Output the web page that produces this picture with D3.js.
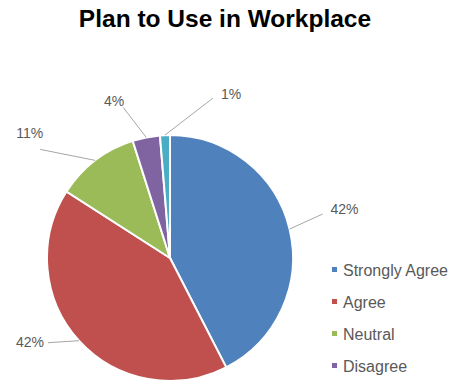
<!DOCTYPE html>
<html>
<head>
<meta charset="utf-8">
<script src="https://cdn.jsdelivr.net/npm/d3@7"></script>
<style>
  body { margin: 0; background: #fff; }
  svg { display: block; font-family: "Liberation Sans", Arial, sans-serif; }
</style>
</head>
<body>
<div id="viz"></div>
<script>
const w = 459;
const h = 383;

// data
const categories = ['Strongly Agree', 'Agree', 'Neutral', 'Disagree', 'Strongly Disagree'];
const values = [42.4, 41.6, 11.0, 3.6, 1.3];
const labels = ['42%', '42%', '11%', '4%', '1%'];
const colors = ['#4F81BD', '#C0504D', '#9BBB59', '#8064A2', '#4BACC6'];
// only the first four legend entries fit in the frame
const legendShown = 4;

// where the leader lines end (relative to slice edge) and text nudges
const leader = [
    { dx: 33, dy: -15, tx: 8, ty: 0, anchor: 'start' },
    { dx: -31, dy: 2, tx: -4, ty: 4, anchor: 'end' },
    { dx: -55, dy: -11, tx: 3, ty: -11, anchor: 'end' },
    { dx: -23, dy: -30, tx: 1, ty: -1, anchor: 'end' },
    { dx: 48, dy: -37, tx: 8, ty: 1, anchor: 'start' }
];

const cx = 170, cy = 258, r = 123;

const svg = d3.select('#viz').append('svg')
    .attr('width', w)
    .attr('height', h)

svg.append('text')
    .attr('x', 225)
    .attr('y', 27)
    .attr('text-anchor', 'middle')
    .attr('font-size', 24.5)
    .attr('font-weight', 'bold')
    .attr('fill', '#000')
    .text('Plan to Use in Workplace')

const pie = d3.pie().sort(null).value(d => d)
const arcs = pie(values)

const arc = d3.arc().innerRadius(0).outerRadius(r)
const edge = d3.arc().innerRadius(r).outerRadius(r)

const pieGroup = svg.append('g')
    .attr('transform', `translate(${cx},${cy})`)

pieGroup.selectAll('path.slice')
    .data(arcs)
    .join('path')
    .attr('class', 'slice')
    .attr('d', arc)
    .attr('fill', (d, i) => colors[i])
    .attr('stroke', '#fff')
    .attr('stroke-width', 2)

// leader lines + labels
arcs.forEach((d, i) => {
    const [ex, ey] = edge.centroid(d);
    const L = leader[i];
    const lx = ex + L.dx, ly = ey + L.dy;
    pieGroup.append('line')
        .attr('x1', ex).attr('y1', ey)
        .attr('x2', lx).attr('y2', ly)
        .attr('stroke', '#a6a6a6')
        .attr('stroke-width', 1)
    pieGroup.append('text')
        .attr('x', lx + L.tx)
        .attr('y', ly + L.ty)
        .attr('text-anchor', L.anchor)
        .attr('font-size', 14)
        .attr('fill', '#595959')
        .text(labels[i])
})

// legend
const legend = svg.append('g')
    .attr('transform', 'translate(332,270)')

const item = legend.selectAll('g')
    .data(categories.slice(0, legendShown))
    .join('g')
    .attr('transform', (d, i) => `translate(0,${i * 32})`)

item.append('rect')
    .attr('x', 0)
    .attr('y', -3)
    .attr('width', 5)
    .attr('height', 5)
    .attr('fill', (d, i) => colors[i])

item.append('text')
    .attr('x', 11)
    .attr('y', 6)
    .attr('font-size', 16)
    .attr('fill', '#595959')
    .text(d => d)
</script>
</body>
</html>
